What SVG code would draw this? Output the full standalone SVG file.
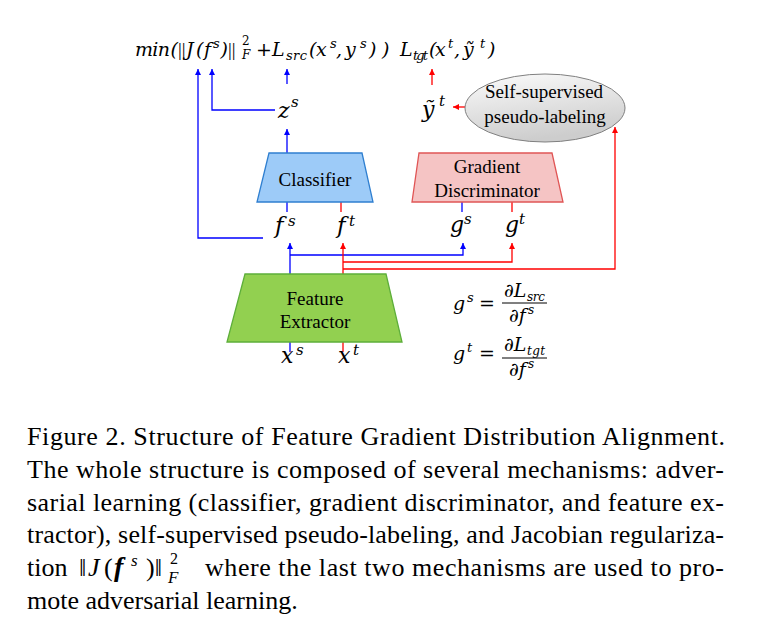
<svg xmlns="http://www.w3.org/2000/svg" width="760" height="644" viewBox="0 0 760 644">
<defs>
<style>
.m{font-family:"DejaVu Serif","Liberation Serif",serif;font-style:italic;fill:#000}
.up{font-style:normal}
.bar{font-family:"Liberation Serif",serif;font-style:normal}
.lbl{font-family:"Liberation Serif","Times New Roman",serif;font-size:19px;fill:#000;text-anchor:middle}
.cap{font-family:"Liberation Serif","Times New Roman",serif;font-size:26px;fill:#000}
.b{fill:none;stroke:#0000FF;stroke-width:1.3}
.r{fill:none;stroke:#FF0000;stroke-width:1.3}
</style>
<marker id="ab" markerUnits="userSpaceOnUse" markerWidth="7" markerHeight="7" refX="6" refY="3" orient="auto"><path d="M0,0 L6,3 L0,6 z" fill="#0000FF"/></marker>
<marker id="ar" markerUnits="userSpaceOnUse" markerWidth="7" markerHeight="7" refX="6" refY="3" orient="auto"><path d="M0,0 L6,3 L0,6 z" fill="#FF0000"/></marker>
<linearGradient id="eg" x1="0" y1="0" x2="0.3" y2="1"><stop offset="0" stop-color="#fbfbfb"/><stop offset="1" stop-color="#cdcdcd"/></linearGradient>
</defs>
<rect width="760" height="644" fill="#fff"/>

<g id="connectors">
<polyline class="b" points="263,238 198,238 198,69" marker-end="url(#ab)"/>
<polyline class="b" points="275,110 212,110 212,69" marker-end="url(#ab)"/>
<line class="b" x1="287" y1="84" x2="287" y2="69" marker-end="url(#ab)"/>
<line class="b" x1="287" y1="153" x2="287" y2="129" marker-end="url(#ab)"/>
<line class="b" x1="287" y1="202" x2="287" y2="212"/>
<line class="b" x1="462" y1="202" x2="462" y2="212"/>
<line class="b" x1="290" y1="274" x2="290" y2="243" marker-end="url(#ab)"/>
<polyline class="b" points="290,255 463,255 463,243" marker-end="url(#ab)"/>
<line class="b" x1="290" y1="342" x2="290" y2="352"/>
<line class="r" x1="432" y1="85" x2="432" y2="69" marker-end="url(#ar)"/>
<line class="r" x1="465" y1="107" x2="453" y2="107" marker-end="url(#ar)"/>
<line class="r" x1="341" y1="202" x2="341" y2="212"/>
<line class="r" x1="512" y1="202" x2="512" y2="212"/>
<line class="r" x1="343" y1="274" x2="343" y2="243" marker-end="url(#ar)"/>
<polyline class="r" points="343,262 512,262 512,243" marker-end="url(#ar)"/>
<polyline class="r" points="343,269 615,269 615,127" marker-end="url(#ar)"/>
<line class="r" x1="343" y1="342" x2="343" y2="352"/>
</g>

<g id="classifier">
<polygon points="269,153 362,153 373,202 257,202" fill="#9DCBF8" stroke="#2F7FD0" stroke-width="1.3"/>
<text class="lbl" x="315" y="186">Classifier</text>
</g>
<g id="gradient-discriminator">
<polygon points="419,153 552,153 563,202 412,202" fill="#F5C4C4" stroke="#E05555" stroke-width="1.3"/>
<text class="lbl" x="487" y="173">Gradient</text>
<text class="lbl" x="487" y="197">Discriminator</text>
</g>
<g id="feature-extractor">
<polygon points="245,274 386,274 402,342 227,342" fill="#92D050" stroke="#5DAE3A" stroke-width="1.3"/>
<text class="lbl" x="315" y="305">Feature</text>
<text class="lbl" x="315" y="328">Extractor</text>
</g>
<g id="pseudo-labeling">
<ellipse cx="545" cy="108" rx="80" ry="34" fill="url(#eg)" stroke="#808080" stroke-width="1"/>
<text class="lbl" x="544" y="98">Self-supervised</text>
<text class="lbl" x="545" y="123">pseudo-labeling</text>
</g>

<g id="loss-src">
<text class="m" font-size="19"><tspan x="135" y="56" textLength="35">min</tspan><tspan x="170.5" y="56">(</tspan><tspan class="bar" x="178" y="56">||</tspan><tspan x="186" y="56">J</tspan><tspan x="196" y="56">(</tspan><tspan x="204" y="56">f</tspan><tspan x="213" y="48" font-size="13">s</tspan><tspan x="220.5" y="56">)</tspan><tspan class="bar" x="228" y="56">||</tspan><tspan class="up" x="242" y="45" font-size="12">2</tspan><tspan x="242" y="59" font-size="12">F</tspan><tspan class="up" x="256" y="56">+</tspan><tspan x="272" y="56">L</tspan><tspan x="286" y="60" font-size="13" textLength="21">src</tspan><tspan x="309" y="56">(</tspan><tspan x="316" y="56">x</tspan><tspan x="330" y="48" font-size="13">s</tspan><tspan x="336" y="56">,</tspan><tspan x="345" y="56">y</tspan><tspan x="360" y="48" font-size="13">s</tspan><tspan x="369" y="56">)</tspan><tspan x="382" y="56">)</tspan></text>
</g>
<g id="loss-tgt">
<text class="m" font-size="19"><tspan x="400" y="56">L</tspan><tspan x="413" y="60" font-size="13" textLength="15">tgt</tspan><tspan x="429" y="56">(</tspan><tspan x="435" y="56">x</tspan><tspan x="448" y="48" font-size="13">t</tspan><tspan x="454" y="56">,</tspan><tspan x="463" y="56">ỹ</tspan><tspan x="480" y="48" font-size="13">t</tspan><tspan x="488" y="56">)</tspan></text>
</g>
<g id="zs"><text class="m" font-size="22"><tspan x="278" y="118">z</tspan><tspan x="291" y="107" font-size="15">s</tspan></text></g>
<g id="yt"><text class="m" font-size="22"><tspan x="422" y="117">ỹ</tspan><tspan x="439" y="106" font-size="15">t</tspan></text></g>
<g id="fs"><text class="m" font-size="23"><tspan x="275" y="233">f</tspan><tspan x="288" y="226" font-size="15">s</tspan></text></g>
<g id="ft"><text class="m" font-size="23"><tspan x="337" y="233">f</tspan><tspan x="349" y="226" font-size="15">t</tspan></text></g>
<g id="gs"><text class="m" font-size="22"><tspan x="450" y="232">g</tspan><tspan x="464" y="224" font-size="15">s</tspan></text></g>
<g id="gt"><text class="m" font-size="22"><tspan x="505" y="232">g</tspan><tspan x="519" y="224" font-size="15">t</tspan></text></g>
<g id="xs"><text class="m" font-size="22"><tspan x="281" y="363">x</tspan><tspan x="296" y="355" font-size="15">s</tspan></text></g>
<g id="xt"><text class="m" font-size="22"><tspan x="338" y="363">x</tspan><tspan x="353" y="355" font-size="15">t</tspan></text></g>

<g id="eq-gs">
<text class="m" font-size="19"><tspan x="453" y="310">g</tspan><tspan x="467" y="302" font-size="13">s</tspan><tspan class="up" x="479" y="310">=</tspan></text>
<text class="m" font-size="19"><tspan x="504" y="297">∂L</tspan><tspan x="527" y="301" font-size="12" textLength="18">src</tspan></text>
<line x1="502" y1="303" x2="547" y2="303" stroke="#000" stroke-width="1"/>
<text class="m" font-size="19"><tspan x="509" y="322">∂f</tspan><tspan x="528" y="314" font-size="12">s</tspan></text>
</g>
<g id="eq-gt">
<text class="m" font-size="19"><tspan x="453" y="360">g</tspan><tspan x="467" y="352" font-size="13">t</tspan><tspan class="up" x="479" y="360">=</tspan></text>
<text class="m" font-size="19"><tspan x="504" y="351">∂L</tspan><tspan x="527" y="355" font-size="12" textLength="18">tgt</tspan></text>
<line x1="502" y1="358" x2="547" y2="358" stroke="#000" stroke-width="1"/>
<text class="m" font-size="19"><tspan x="509" y="376">∂f</tspan><tspan x="528" y="368" font-size="12">s</tspan></text>
</g>

<g id="caption">
<text class="cap" x="27" y="445" textLength="698" lengthAdjust="spacing">Figure 2. Structure of Feature Gradient Distribution Alignment.</text>
<text class="cap" x="27" y="478" textLength="697" lengthAdjust="spacing">The whole structure is composed of several mechanisms: adver-</text>
<text class="cap" x="27" y="511" textLength="697" lengthAdjust="spacing">sarial learning (classifier, gradient discriminator, and feature ex-</text>
<text class="cap" x="27" y="543" textLength="697" lengthAdjust="spacing">tractor), self-supervised pseudo-labeling, and Jacobian regulariza-</text>
<text class="cap"><tspan x="27" y="576">tion</tspan><tspan x="79" y="576">‖</tspan><tspan x="88" y="576" font-style="italic">J</tspan><tspan x="104" y="576">(</tspan><tspan x="114" y="576" font-style="italic" font-weight="bold" font-size="28">f</tspan><tspan x="131" y="566" font-size="17" font-style="italic">s</tspan><tspan x="146" y="576">)‖</tspan><tspan x="170" y="564" font-size="16">2</tspan><tspan x="168" y="583" font-size="17" font-style="italic">F</tspan></text>
<text class="cap" x="205" y="576" textLength="519" lengthAdjust="spacing">where the last two mechanisms are used to pro-</text>
<text class="cap" x="27" y="609">mote adversarial learning.</text>
</g>
</svg>
